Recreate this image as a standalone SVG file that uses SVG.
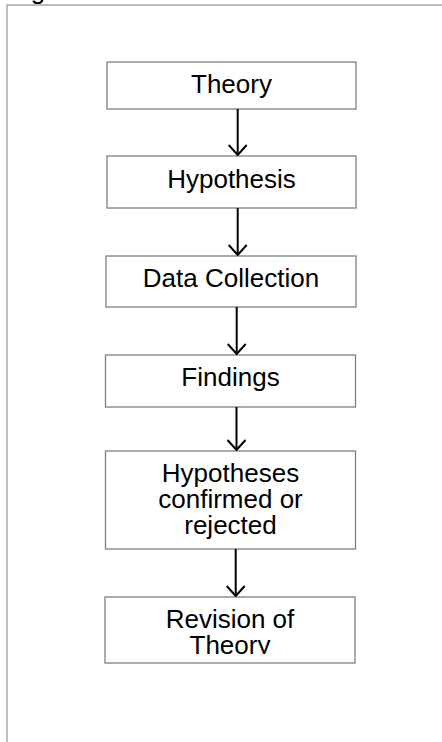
<svg xmlns="http://www.w3.org/2000/svg" width="442" height="742" viewBox="0 0 442 742">
  <style>
    .frame { fill: none; stroke: #a6a6a6; stroke-width: 1.5; }
    .box { fill: #ffffff; stroke: #7f7f7f; stroke-width: 1.3; }
    .label { font-family: "Liberation Sans", Arial, sans-serif; font-size: 26px; fill: #000000; text-anchor: middle; }
    .caption { font-family: "Liberation Sans", Arial, sans-serif; font-size: 26px; fill: #000000; }
    .edge { fill: none; stroke: #000000; stroke-width: 2; }
  </style>
  <defs>
    <marker id="vhead" viewBox="0 0 12 20" refX="11" refY="10" markerWidth="12" markerHeight="20" markerUnits="userSpaceOnUse" orient="auto">
      <path d="M1,1 L11,10 L1,19" fill="none" stroke="#000000" stroke-width="2"/>
    </marker>
    <clipPath id="clip-revision">
      <rect x="105" y="597" width="250" height="57"/>
    </clipPath>
  </defs>

  <rect width="442" height="742" fill="#ffffff"/>

  <!-- caption above the frame, only its descender reaches the page -->
  <text class="caption" x="9" y="-1">Figure</text>

  <!-- outer frame -->
  <path class="frame" d="M7,742 L7,5 L442,5"/>

  <g id="theory">
    <rect class="box" x="107" y="62" width="249" height="47"/>
    <text class="label" x="231.5" y="93">Theory</text>
  </g>

  <g id="hypothesis">
    <rect class="box" x="107" y="156" width="249" height="52"/>
    <text class="label" x="231.5" y="188">Hypothesis</text>
  </g>

  <g id="data-collection">
    <rect class="box" x="106" y="256" width="250" height="51"/>
    <text class="label" x="231" y="287">Data Collection</text>
  </g>

  <g id="findings">
    <rect class="box" x="105.5" y="355" width="250" height="52"/>
    <text class="label" x="230.5" y="386">Findings</text>
  </g>

  <g id="hypotheses-confirmed">
    <rect class="box" x="105.5" y="451" width="250" height="98"/>
    <text class="label" x="230.5" y="482">Hypotheses</text>
    <text class="label" x="230.5" y="508">confirmed or</text>
    <text class="label" x="230.5" y="534">rejected</text>
  </g>

  <g id="revision-of-theory">
    <rect class="box" x="105" y="597" width="250" height="66"/>
    <g clip-path="url(#clip-revision)">
      <text class="label" x="230" y="628">Revision of</text>
      <text class="label" x="230" y="654">Theory</text>
    </g>
  </g>

  <g id="connectors">
    <line class="edge" x1="237.7" y1="109" x2="237.7" y2="155" marker-end="url(#vhead)"/>
    <line class="edge" x1="237.7" y1="208" x2="237.7" y2="255" marker-end="url(#vhead)"/>
    <line class="edge" x1="236.7" y1="307" x2="236.7" y2="354" marker-end="url(#vhead)"/>
    <line class="edge" x1="236.5" y1="407" x2="236.5" y2="450" marker-end="url(#vhead)"/>
    <line class="edge" x1="235.7" y1="549" x2="235.7" y2="596" marker-end="url(#vhead)"/>
  </g>
</svg>
